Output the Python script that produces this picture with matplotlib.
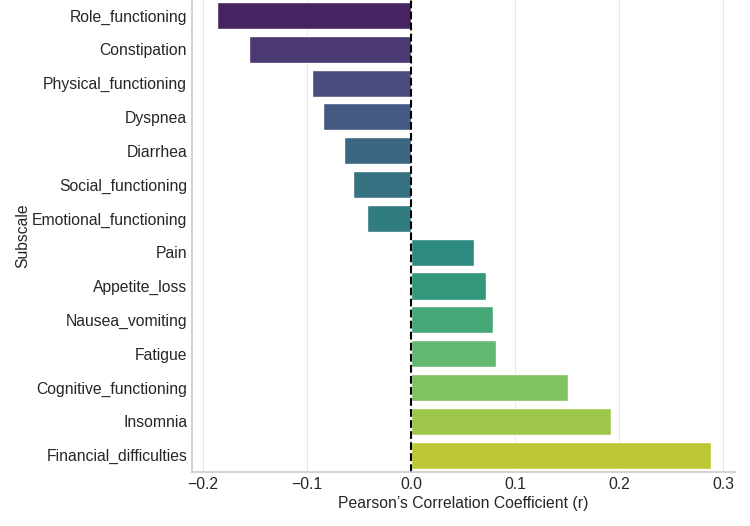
import numpy as np
import pandas as pd
import matplotlib
matplotlib.use("Agg")
import matplotlib.pyplot as plt
import seaborn as sns

# correlation of each subscale with outcome
subscales = ["Role_functioning", "Constipation", "Physical_functioning", "Dyspnea",
             "Diarrhea", "Social_functioning", "Emotional_functioning", "Pain",
             "Appetite_loss", "Nausea_vomiting", "Fatigue", "Cognitive_functioning",
             "Insomnia", "Financial_difficulties"]
r_values = [-0.187, -0.156, -0.095, -0.085, -0.064, -0.056, -0.042,
            0.061, 0.072, 0.079, 0.082, 0.151, 0.192, 0.288]

df = pd.DataFrame({"Subscale": subscales, "r": r_values})

sns.set_theme(style="whitegrid")
plt.rcParams['font.family'] = ['Liberation Sans', 'DejaVu Sans']
plt.rcParams['xtick.major.size'] = 0
plt.rcParams['ytick.major.size'] = 0
plt.rcParams['grid.color'] = '#e8e8e8'
plt.rcParams['grid.linewidth'] = 0.8

fig = plt.figure(figsize=(7.5, 5.26), dpi=100)
ax = fig.add_axes([0.256, 0.1027, 0.724, 0.9])

sns.barplot(data=df, x="r", y="Subscale", hue="Subscale",
            palette="viridis", legend=False, ax=ax)
ax.axvline(0, color="black", linestyle="--", linewidth=1.5)

ax.set_xlabel("Pearson\u2019s Correlation Coefficient (r)", fontsize=11.3, labelpad=3)
ax.set_ylabel("Subscale", fontsize=11.3, labelpad=1)
ax.set_xticks([-0.2, -0.1, 0.0, 0.1, 0.2, 0.3])
ax.tick_params(labelsize=11.3)
ax.set_xlim(-0.2106, 0.3115)
sns.despine(ax=ax)

fig.savefig("out.png", dpi=100)
